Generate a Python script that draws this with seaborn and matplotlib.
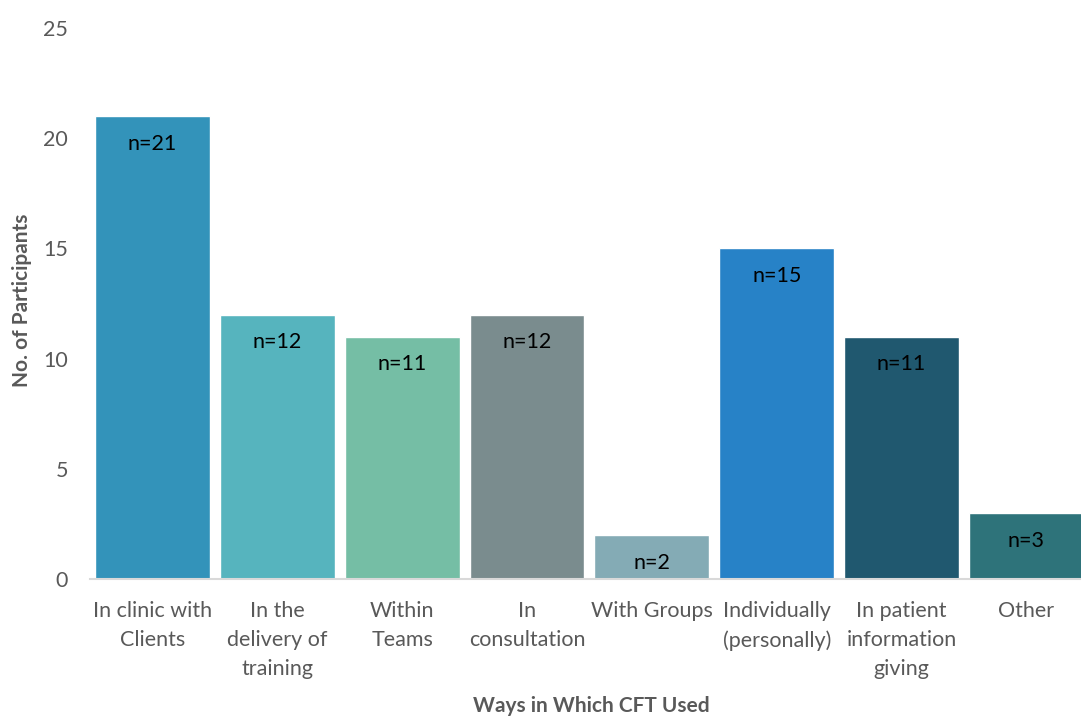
import pandas as pd
import numpy as np
import matplotlib.pyplot as plt
import seaborn as sns

# --- data ---
categories = ['In clinic with\nClients', 'In the\ndelivery of\ntraining', 'Within\nTeams',
              'In\nconsultation', 'With Groups', 'Individually\n(personally)',
              'In patient\ninformation\ngiving', 'Other']
counts = [21, 12, 11, 12, 2, 15, 11, 3]
bar_colors = ['#3393BA', '#56B4BE', '#75BEA5', '#7A8C8E',
              '#84ABB5', '#2782C7', '#20586F', '#2E737A']

df = pd.DataFrame({'Way': categories, 'Count': counts})

sns.set_theme(style='white')
plt.rcParams['font.family'] = ['Lato', 'DejaVu Sans']

fig = plt.figure(figsize=(10.81, 7.16), dpi=100)
ax = fig.add_axes([0.0833, 0.1913, 0.924, 0.7696])

sns.barplot(x='Way', y='Count', data=df, hue='Way', palette=bar_colors,
            legend=False, width=0.92, saturation=1, ax=ax)

# value labels just under the top of each bar
for i, v in enumerate(counts):
    ax.annotate(f'n={v}', (i, v), xytext=(0, -20), textcoords='offset points',
                ha='center', va='center', fontsize=15.5, color='black')

ax.set_ylim(0, 25)
ax.set_yticks([0, 5, 10, 15, 20, 25])
ax.set_xlim(-0.5, len(categories) - 0.5)
ax.tick_params(axis='y', labelsize=15.5, labelcolor='#595959', pad=16, length=0)
ax.tick_params(axis='x', labelsize=15.5, labelcolor='#595959', pad=16, length=0)
for lbl in ax.get_xticklabels():
    lbl.set_linespacing(1.55)

for s in ['top', 'right', 'left']:
    ax.spines[s].set_visible(False)
ax.spines['bottom'].set_color('#D9D9D9')
ax.spines['bottom'].set_linewidth(1.5)

ax.set_xlabel('Ways in Which CFT Used', fontsize=15, fontweight='bold', color='#595959')
ax.set_ylabel('No. of Participants', fontsize=15, fontweight='bold', color='#595959')
ax.xaxis.set_label_coords(0.502, -0.212)
ax.yaxis.set_label_coords(-0.058, 0.506)

fig.savefig('out.png', dpi=100)
